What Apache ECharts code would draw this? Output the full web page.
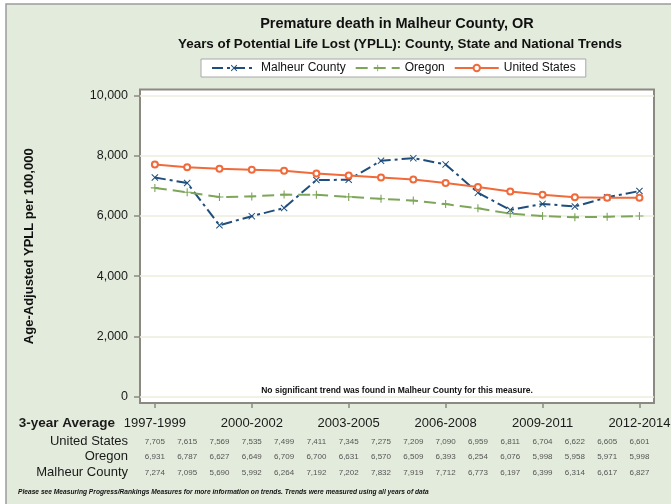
<!DOCTYPE html>
<html>
<head>
<meta charset="utf-8">
<script src="https://cdn.jsdelivr.net/npm/echarts@6/dist/echarts.min.js"></script>
<style>
html,body{margin:0;padding:0;background:#fff;}
#chart{width:671px;height:504px;}
</style>
</head>
<body>
<div id="chart"></div>
<script>
// 3-year periods (x categories)
var periods = ["1997-1999","1998-2000","1999-2001","2000-2002","2001-2003","2002-2004","2003-2005","2004-2006",
	"2005-2007","2006-2008","2007-2009","2008-2010","2009-2011","2010-2012","2011-2013","2012-2014"];
// age-adjusted YPLL per 100,000
var usValues = [7705,7615,7569,7535,7499,7411,7345,7275,7209,7090,6959,6811,6704,6622,6605,6601];
var oregonValues = [6931,6787,6627,6649,6709,6700,6631,6570,6509,6393,6254,6076,5998,5958,5971,5998];
var malheurValues = [7274,7095,5690,5992,6264,7192,7202,7832,7919,7712,6773,6197,6399,6314,6617,6827];
var yTicks = [0,2000,4000,6000,8000,10000];
var xLabelIdx = [0,3,6,9,12,15];

var allIdx = periods.map(function(p,i){return i;});
function toPts(arr){ return arr.map(function(v,i){return [i,v];}); }
function fmt(v){ return v.toLocaleString("en-US"); }

var bg = "#e3ebdc";
var frame = "#8c8a80";
var sans = "'Liberation Sans', Arial, sans-serif";

// table row under the plot, drawn as an extra x axis
function tableAxis(name, arr, offset, bold){
	return {
		type:"value", gridIndex:0, position:"bottom", offset:offset,
		min:-0.46, max:15.45,
		name:name, nameLocation:"start", nameGap:bold ? 25 : 12,
		nameTextStyle:{color:"#1a1a1a", fontSize:bold ? 13.5 : 13, fontWeight:bold ? "bold" : "normal", fontFamily:sans},
		axisLine:{show:false, onZero:false}, axisTick:{show:false}, splitLine:{show:false},
		axisLabel:{
			show:!!arr, customValues:allIdx, margin:0, verticalAlign:"middle",
			color:"#555", fontSize:8, fontFamily:sans,
			formatter:function(v){ return arr ? fmt(arr[Math.round(v)]) : ""; }
		}
	};
}

var x_star = "path://M0,1L1,0L5,4L9,0L10,1L6,5L10,9L9,10L5,6L1,10L0,9L4,5Z";
var plus = "path://M4.3,0H5.7V4.3H10V5.7H5.7V10H4.3V5.7H0V4.3H4.3Z";

var myChart = echarts.init(document.getElementById("chart"));
var option = {
	backgroundColor:"#fff",
	animation:false,
	textStyle:{fontFamily:sans},
	graphic:[
		{type:"rect", z:-10, silent:true, shape:{x:6,y:4,width:700,height:600},
			style:{fill:bg, stroke:"#9c9c9c", lineWidth:1.5}},
		{type:"text", x:397, y:24, style:{text:"Premature death in Malheur County, OR", textAlign:"center", textVerticalAlign:"middle",
			font:"bold 14.5px " + sans, fill:"#111"}},
		{type:"text", x:400, y:44, style:{text:"Years of Potential Life Lost (YPLL): County, State and National Trends", textAlign:"center", textVerticalAlign:"middle",
			font:"bold 13.4px " + sans, fill:"#111"}},
		{type:"text", x:397, y:391, z:10, style:{text:"No significant trend was found in Malheur County for this measure.", textAlign:"center", textVerticalAlign:"middle",
			font:"bold 8.5px " + sans, fill:"#111"}},
		{type:"text", x:18, y:492, scaleX:0.83, style:{text:"Please see Measuring Progress/Rankings Measures for more information on trends. Trends were measured using all years of data", textAlign:"left", textVerticalAlign:"middle",
			font:"italic bold 8px " + sans, fill:"#111"}}
	],
	legend:{
		left:201, top:59,
		backgroundColor:"#fff", borderColor:"#a8a8a8", borderWidth:1,
		padding:[3,10], itemWidth:44, itemHeight:8, itemGap:9,
		textStyle:{fontSize:12, color:"#111"},
		data:["Malheur County","Oregon","United States"]
	},
	grid:{
		show:true, left:140, right:17, top:89.5, bottom:101,
		backgroundColor:"#fff", borderColor:frame, borderWidth:2,
		outerBoundsMode:"none"
	},
	xAxis:[
		{
			type:"value", min:-0.46, max:15.45,
			axisLine:{show:false, onZero:false},
			axisTick:{show:true, customValues:xLabelIdx, length:5, lineStyle:{color:frame, width:1.5}},
			axisLabel:{customValues:xLabelIdx, margin:14, fontSize:13, color:"#1a1a1a",
				formatter:function(v){ return periods[Math.round(v)]; }},
			splitLine:{show:false}
		},
		tableAxis("3-year Average", null, 20, true),
		tableAxis("United States", usValues, 38.5),
		tableAxis("Oregon", oregonValues, 53.5),
		tableAxis("Malheur County", malheurValues, 69.5)
	],
	yAxis:{
		type:"value", min:-215, max:10200,
		name:"Age-Adjusted YPLL per 100,000", nameLocation:"middle", nameGap:104,
		nameTextStyle:{fontSize:13, fontWeight:"bold", color:"#111"},
		axisLine:{show:false, onZero:false},
		axisTick:{show:true, customValues:yTicks, length:6, lineStyle:{color:frame, width:1.5}},
		axisLabel:{customValues:yTicks, margin:12, fontSize:12.5, color:"#1a1a1a",
			formatter:function(v){ return fmt(v); }},
		splitLine:{show:true, lineStyle:{color:"#eceedd", width:1.5}}
	},
	series:[
		{
			name:"Malheur County", type:"line", xAxisIndex:0,
			data:toPts(malheurValues),
			symbol:x_star, symbolSize:7,
			itemStyle:{color:"#1f4e7c"},
			lineStyle:{color:"#1f4e7c", width:2, type:[11,4,3,4]}
		},
		{
			name:"Oregon", type:"line", xAxisIndex:0,
			data:toPts(oregonValues),
			symbol:plus, symbolSize:8,
			itemStyle:{color:"#7ea65a"},
			lineStyle:{color:"#7ea65a", width:2, type:[12,6]}
		},
		{
			name:"United States", type:"line", xAxisIndex:0,
			data:toPts(usValues),
			symbol:"emptyCircle", symbolSize:6,
			itemStyle:{color:"#f06a3a", borderColor:"#f4a08a", borderWidth:1},
			lineStyle:{color:"#f06a3a", width:2}
		}
	]
};
myChart.setOption(option);
</script>
</body>
</html>
